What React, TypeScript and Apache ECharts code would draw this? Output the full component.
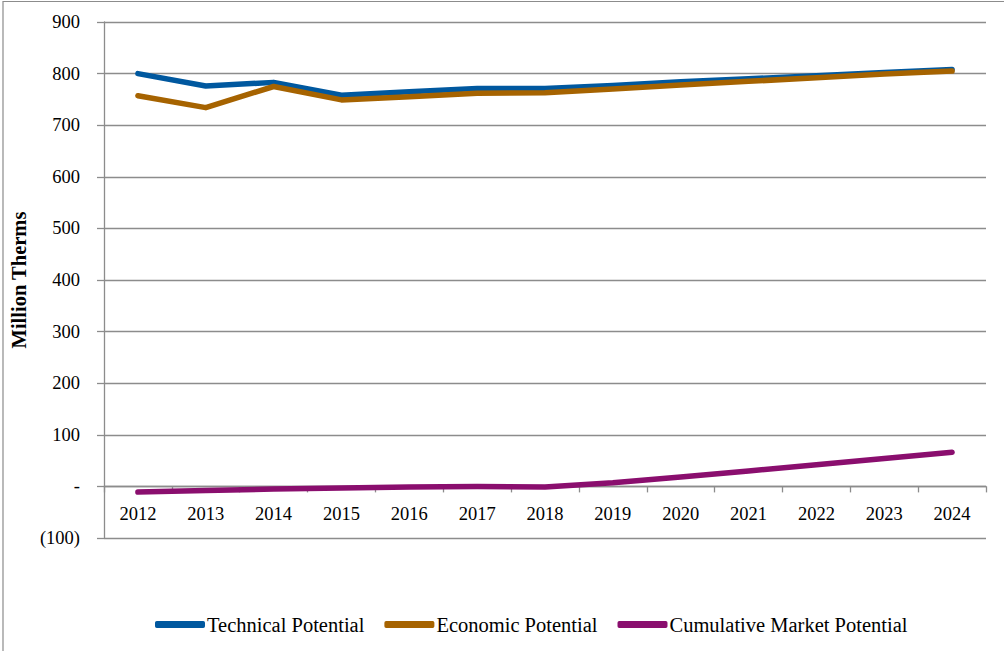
import React, { useEffect, useRef } from "react";
import * as echarts from "echarts";

const years = ["2012","2013","2014","2015","2016","2017","2018","2019","2020","2021","2022","2023","2024"];
const technical = [800, 776, 783, 758, 765, 771, 771, 777, 784, 790, 796, 802, 808];
const economic = [757, 734, 775, 749, 755, 762, 763, 770, 778, 785, 792, 799, 805];
const market = [-11, -8, -5, -3, -1, 0, -1, 7, 18, 30, 42, 54, 66];
const seriesNames = ["Technical Potential", "Economic Potential", "Cumulative Market Potential"];
const colors = ["#00589F", "#A66300", "#8A0E6E"];

const FONT = "'Liberation Serif', 'Times New Roman', serif";

export default function App() {
  const ref = useRef<HTMLDivElement>(null);
  useEffect(() => {
    document.body.style.margin = "0";
    const chart = echarts.init(ref.current!, null, { renderer: "svg" });
    const data = [technical, economic, market];
    chart.setOption({
      animation: false,
      backgroundColor: "#ffffff",
      textStyle: { fontFamily: FONT },
      grid: { left: 104, right: 18, top: 22, bottom: 113 },
      graphic: [
        {
          type: "rect",
          shape: { x: 3, y: 1.5, width: 1100, height: 700 },
          style: { fill: "none", stroke: "#8c8c8c", lineWidth: 1.2 },
          silent: true,
        },
      ],
      legend: {
        left: 150,
        top: 609,
        itemWidth: 50,
        itemHeight: 7,
        itemGap: 20,
        icon: "roundRect",
        data: seriesNames,
        textStyle: { fontFamily: FONT, fontSize: 20.5, color: "#000", padding: [0, 0, 0, -3] },
      },
      xAxis: {
        type: "category",
        data: years,
        boundaryGap: true,
        position: "bottom",
        offset: -51.6,
        axisLine: { onZero: false, lineStyle: { color: "#8c8c8c", width: 1.3 } },
        axisTick: { show: true, length: 6, lineStyle: { color: "#8c8c8c", width: 1.3 } },
        axisLabel: { fontFamily: FONT, fontSize: 18.5, color: "#000", margin: 18 },
        splitLine: { show: false },
      },
      yAxis: {
        type: "value",
        min: -100,
        max: 900,
        interval: 100,
        name: "Million Therms",
        nameLocation: "middle",
        nameGap: 72,
        nameRotate: 90,
        nameTextStyle: { fontFamily: FONT, fontSize: 20.5, fontWeight: "bold", color: "#000" },
        axisLine: { show: true, lineStyle: { color: "#8c8c8c", width: 1.3 } },
        axisTick: { show: true, length: 7, lineStyle: { color: "#8c8c8c", width: 1.3 } },
        axisLabel: {
          fontFamily: FONT,
          fontSize: 18.5,
          color: "#000",
          margin: 24,
          formatter: (v: number) => (v === 0 ? "-" : v < 0 ? "(" + Math.abs(v) + ")" : String(v)),
        },
        splitLine: { show: true, lineStyle: { color: "#8c8c8c", width: 1.3 } },
      },
      series: seriesNames.map((name, i) => ({
        name,
        type: "line",
        data: data[i],
        symbol: "none",
        showSymbol: false,
        color: colors[i],
        lineStyle: { width: 5.5, color: colors[i], cap: "round", join: "round" },
        z: 2 + i,
      })),
    });
    return () => chart.dispose();
  }, []);
  return <div ref={ref} style={{ width: 1004, height: 651 }} />;
}
